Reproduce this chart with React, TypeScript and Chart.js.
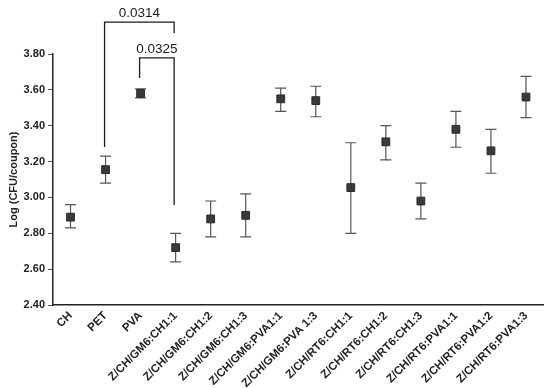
import React, { useEffect, useRef } from 'react';
import { Chart, registerables } from 'chart.js';

Chart.register(...registerables);

const categories = [
  'CH',
  'PET',
  'PVA',
  'Z/CH/GM6:CH1:1',
  'Z/CH/GM6:CH1:2',
  'Z/CH/GM6:CH1:3',
  'Z/CH/GM6:PVA1:1',
  'Z/CH/GM6:PVA 1:3',
  'Z/CH/RT6:CH1:1',
  'Z/CH/RT6:CH1:2',
  'Z/CH/RT6:CH1:3',
  'Z/CH/RT6:PVA1:1',
  'Z/CH/RT6:PVA1:2',
  'Z/CH/RT6:PVA1:3',
];
const means = [2.89, 3.155, 3.58, 2.72, 2.88, 2.9, 3.55, 3.54, 3.055, 3.31, 2.98, 3.38, 3.26, 3.56];
const upper = [2.96, 3.23, 3.605, 2.8, 2.98, 3.02, 3.61, 3.62, 3.305, 3.4, 3.08, 3.48, 3.38, 3.675];
const lower = [2.83, 3.08, 3.555, 2.64, 2.78, 2.78, 3.48, 3.45, 2.8, 3.21, 2.88, 3.28, 3.135, 3.445];

const yTicks = [2.4, 2.6, 2.8, 3.0, 3.2, 3.4, 3.6, 3.8];

const bracketFrom = [1, 2];
const bracketTo = [3, 3];
const bracketLabels = ['0.0314', '0.0325'];
const bracketTop = [3.978, 3.778];
const bracketLeftEnd = [3.281, 3.666];
const bracketRightEnd = [3.917, 2.958];

const FONT = '"Liberation Sans", Arial, Helvetica, sans-serif';

const errorBarPlugin = {
  id: 'errorBars',
  beforeDatasetsDraw(chart: any) {
    const { ctx, scales } = chart;
    const x = scales.x;
    const y = scales.y;
    ctx.save();
    ctx.strokeStyle = '#555';
    ctx.lineWidth = 1.2;
    categories.forEach((_c, i) => {
      const px = x.getPixelForValue(i);
      const yt = y.getPixelForValue(upper[i]);
      const yb = y.getPixelForValue(lower[i]);
      ctx.beginPath();
      ctx.moveTo(px, yt);
      ctx.lineTo(px, yb);
      ctx.moveTo(px - 5.5, yt);
      ctx.lineTo(px + 5.5, yt);
      ctx.moveTo(px - 5.5, yb);
      ctx.lineTo(px + 5.5, yb);
      ctx.stroke();
    });
    ctx.restore();
  },
};

const bracketPlugin = {
  id: 'brackets',
  afterDraw(chart: any) {
    const { ctx, scales } = chart;
    const x = scales.x;
    const y = scales.y;
    ctx.save();
    ctx.strokeStyle = '#1a1a1a';
    ctx.lineWidth = 1.3;
    ctx.fillStyle = '#1a1a1a';
    ctx.font = `13.5px ${FONT}`;
    ctx.textAlign = 'center';
    ctx.textBaseline = 'alphabetic';
    bracketLabels.forEach((label, i) => {
      const x1 = x.getPixelForValue(bracketFrom[i]) - 1;
      const x2 = x.getPixelForValue(bracketTo[i]) - 1.5;
      const yt = y.getPixelForValue(bracketTop[i]);
      const yl = y.getPixelForValue(bracketLeftEnd[i]);
      const yr = y.getPixelForValue(bracketRightEnd[i]);
      ctx.beginPath();
      ctx.moveTo(x1, yl);
      ctx.lineTo(x1, yt);
      ctx.lineTo(x2, yt);
      ctx.lineTo(x2, yr);
      ctx.stroke();
      ctx.fillText(label, (x1 + x2) / 2, yt - 5);
    });
    ctx.restore();
  },
};

export default function App() {
  const ref = useRef<HTMLCanvasElement | null>(null);

  useEffect(() => {
    if (!ref.current) return;
    const chart = new Chart(ref.current, {
      type: 'line',
      data: {
        labels: categories,
        datasets: [
          {
            data: means,
            showLine: false,
            pointStyle: 'rect',
            pointRadius: 5.5,
            pointBackgroundColor: '#3a3a3a',
            pointBorderColor: '#2a2a2a',
            pointBorderWidth: 1,
          },
        ],
      },
      options: {
        responsive: false,
        animation: false,
        layout: { padding: { top: 54, right: 6, left: 0, bottom: 0 } },
        plugins: {
          legend: { display: false },
          tooltip: { enabled: false },
        },
        scales: {
          x: {
            type: 'category',
            offset: true,
            grid: { display: false, drawTicks: false },
            border: { display: true, color: '#222', width: 1.5 },
            ticks: {
              autoSkip: false,
              minRotation: 45,
              maxRotation: 45,
              color: '#222',
              padding: 4,
              font: { family: FONT, weight: 'bold', size: 11.5 },
            },
            afterFit: (s: any) => {
              s.height = 83;
            },
          },
          y: {
            min: 2.4,
            max: 3.8,
            afterBuildTicks: (s: any) => {
              s.ticks = yTicks.map((v) => ({ value: v }));
            },
            ticks: {
              callback: (v: any) => Number(v).toFixed(2),
              color: '#222',
              padding: 3,
              font: { family: FONT, weight: 'bold', size: 11 },
            },
            grid: {
              display: true,
              drawOnChartArea: false,
              drawTicks: true,
              tickLength: 5,
              color: '#555',
              lineWidth: 1,
            },
            border: { display: true, color: '#222', width: 1.5 },
            title: {
              display: true,
              text: 'Log (CFU/coupon)',
              color: '#222',
              font: { family: FONT, weight: 'bold', size: 11 },
              padding: { top: 7, bottom: 0 },
            },
            afterFit: (s: any) => {
              s.width = 53;
            },
          },
        },
      },
      plugins: [errorBarPlugin, bracketPlugin],
    });
    return () => chart.destroy();
  }, []);

  return (
    <div style={{ position: 'absolute', left: 0, top: 0, width: 550, height: 388, background: '#fff' }}>
      <canvas ref={ref} width={550} height={388} style={{ display: 'block' }} />
    </div>
  );
}
